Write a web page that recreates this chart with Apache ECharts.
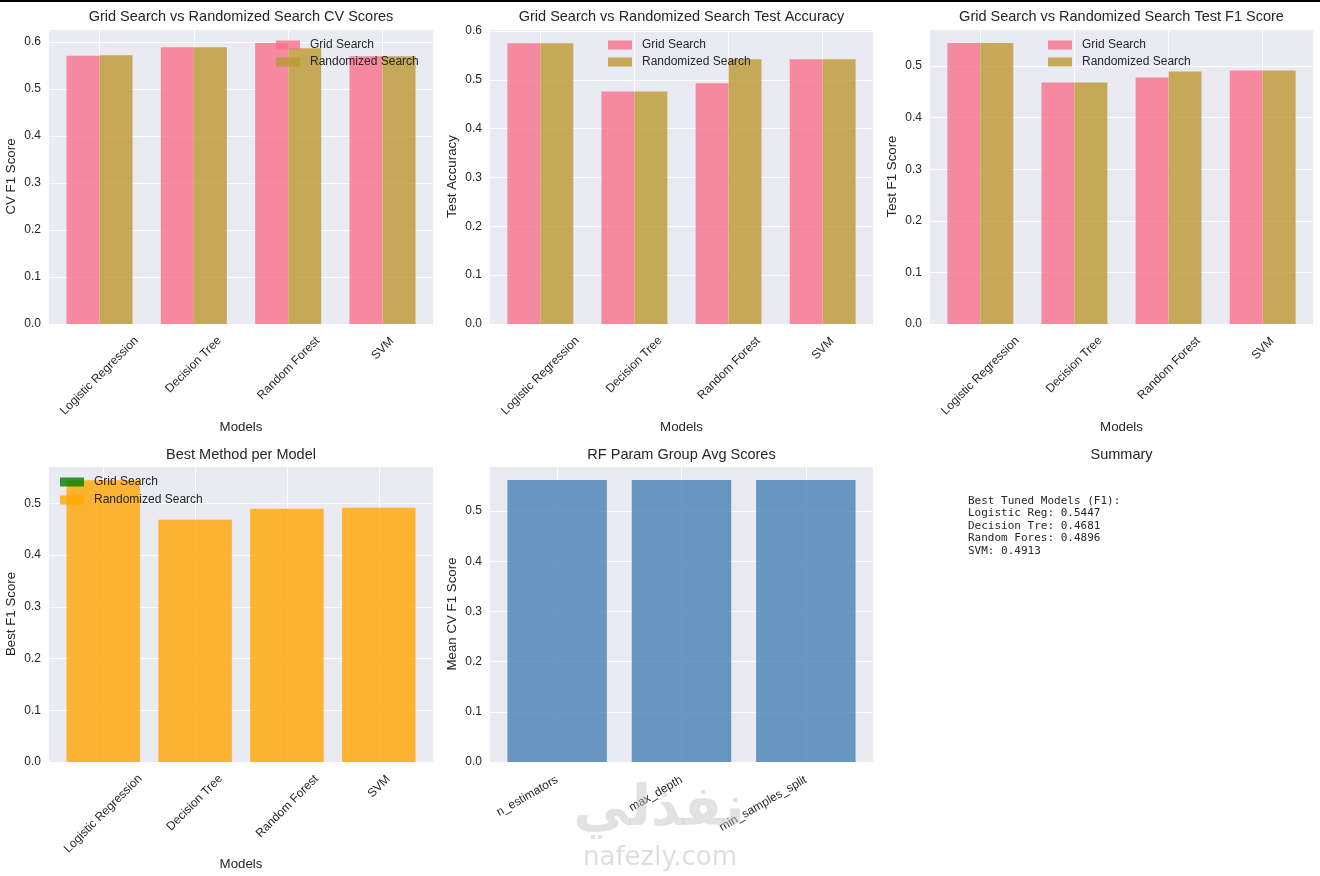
<!DOCTYPE html>
<html>
<head>
<meta charset="utf-8">
<script src="https://cdn.jsdelivr.net/npm/echarts@6/dist/echarts.min.js"></script>
<style>
html,body{margin:0;padding:0;background:#fff;}
#c{width:1320px;height:876px;}
#bar{position:absolute;left:0;top:0;width:1320px;height:2px;background:#000;z-index:10;}
</style>
</head>
<body>
<div id="bar"></div>
<div id="c"></div>
<script>
// ---- data ----
const models = ['Logistic Regression', 'Decision Tree', 'Random Forest', 'SVM'];
const cvGrid = [0.571, 0.589, 0.598, 0.570];
const cvRand = [0.572, 0.589, 0.587, 0.570];
const accGrid = [0.575, 0.476, 0.493, 0.542];
const accRand = [0.575, 0.476, 0.542, 0.542];
const f1Grid = [0.5447, 0.4681, 0.478, 0.4913];
const f1Rand = [0.5447, 0.4681, 0.4896, 0.4913];
const bestF1 = [0.5447, 0.4681, 0.4896, 0.4913];
const bestMethod = ['Randomized Search', 'Randomized Search', 'Randomized Search', 'Randomized Search'];
const paramGroups = ['n_estimators', 'max_depth', 'min_samples_split'];
const paramScores = [0.562, 0.562, 0.562];
const yTicks = [0.0, 0.1, 0.2, 0.3, 0.4, 0.5, 0.6];
const summaryLines = [
  'Best Tuned Models (F1):',
  'Logistic Reg: 0.5447',
  'Decision Tre: 0.4681',
  'Random Fores: 0.4896',
  'SVM: 0.4913'
];

// ---- style ----
const FONT = '"Liberation Sans", Arial, Helvetica, sans-serif';
const TXT = '#262626';
const BG = '#EAEAF2';
const PINK = 'rgba(247,113,137,0.8)';
const GOLD = 'rgba(187,152,50,0.8)';
const GREEN = 'rgba(0,128,0,0.8)';
const ORANGE = 'rgba(255,165,0,0.8)';
const STEEL = 'rgba(70,130,180,0.8)';

const cv = document.createElement('canvas').getContext('2d');
function textW(t, size) { cv.font = size + 'px ' + FONT; return cv.measureText(t).width; }
function rotCats(names) {
  return names.map(n => {
    const L = textW(n, 12);
    const pr = Math.round(L * 0.5);
    const pt = Math.max(0, Math.round(L * 0.25 - 6));
    return { value: n, textStyle: { align: 'center', verticalAlign: 'top', padding: [pt, pr, 0, 0] } };
  });
}

// panel frames (plot background) and matplotlib-like x extents
const panels = [
  { left: 49, top: 29, width: 384, height: 295, n: 4, half: 0.35 },
  { left: 490, top: 29, width: 383, height: 295, n: 4, half: 0.35 },
  { left: 930, top: 29, width: 383, height: 295, n: 4, half: 0.35 },
  { left: 49, top: 466, width: 384, height: 296, n: 4, half: 0.4 },
  { left: 490, top: 466, width: 383, height: 296, n: 3, half: 0.4 }
];
panels.forEach(p => {
  const dataLo = -p.half, dataHi = p.n - 1 + p.half;
  const range = (dataHi - dataLo) * 1.1;
  p.unit = p.width / range;
  const lo = dataLo - (dataHi - dataLo) * 0.05;
  p.cLeft = p.left + (-0.5 - lo) * p.unit;
  p.cWidth = p.n * p.unit;
});

const grids = [];
panels.forEach(p => {
  grids.push({ show: true, backgroundColor: BG, borderWidth: 0, outerBoundsMode: 'none', containLabel: false,
    left: p.left, top: p.top, width: p.width, height: p.height });
  grids.push({ show: false, borderWidth: 0, outerBoundsMode: 'none', containLabel: false,
    left: p.cLeft, top: p.top, width: p.cWidth, height: p.height });
});

const splitL = { show: true, alignWithLabel: true, lineStyle: { color: '#ffffff', width: 1 } };

function xCat(gi, data, rotated45, name, nameGap) {
  const ax = {
    type: 'category', gridIndex: gi, data: data,
    axisLine: { show: false }, axisTick: { show: false, alignWithLabel: true },
    splitLine: splitL,
    axisLabel: { interval: 0, hideOverlap: false, color: TXT, fontFamily: FONT, fontSize: 12 }
  };
  if (rotated45) {
    ax.axisLabel.rotate = 45; ax.axisLabel.align = 'center'; ax.axisLabel.verticalAlign = 'top';
    ax.axisLabel.margin = 15;
  } else {
    ax.axisLabel.rotate = 30; ax.axisLabel.margin = 17;
  }
  if (name) {
    ax.name = name; ax.nameLocation = 'middle'; ax.nameGap = nameGap;
    ax.nameTextStyle = { color: TXT, fontFamily: FONT, fontSize: 13.3 };
  }
  return ax;
}
function xHidden(gi, n) {
  return { type: 'category', gridIndex: gi, show: false, data: Array.from({ length: n }, (_, i) => i) };
}
function yVal(gi, max, name) {
  return {
    type: 'value', gridIndex: gi, min: 0, max: max, interval: 0.1,
    name: name, nameLocation: 'middle', nameGap: 31,
    nameTextStyle: { color: TXT, fontFamily: FONT, fontSize: 13.3 },
    axisLine: { show: false }, axisTick: { show: false },
    splitLine: { show: true, lineStyle: { color: '#ffffff', width: 1 } },
    axisLabel: { color: TXT, fontFamily: FONT, fontSize: 12, margin: 8, showMaxLabel: false,
      formatter: v => (yTicks.some(t => Math.abs(t - v) < 1e-9) ? v.toFixed(1) : '') }
  };
}
function yHidden(gi, max) {
  return { type: 'value', gridIndex: gi, show: false, min: 0, max: max, interval: 0.1, splitLine: { show: false } };
}
function legend(left, top, gap, names, colors) {
  return {
    orient: 'vertical', left: left, top: top, padding: 0, itemGap: gap,
    itemWidth: 24, itemHeight: 9, selectedMode: false,
    icon: 'rect',
    textStyle: { color: TXT, fontFamily: FONT, fontSize: 12, lineHeight: 14, padding: [0, 0, 0, 5] },
    data: names.map((n, i) => ({ name: n, icon: 'rect', itemStyle: { color: colors[i], opacity: 1 } }))
  };
}
function title(text, cx, top) {
  return { text: text, left: cx, top: top, textAlign: 'center', padding: 0,
    textStyle: { color: TXT, fontFamily: FONT, fontSize: 14.5, fontWeight: 'normal' } };
}
function bar(name, pi, data, color, frac, extra) {
  return Object.assign({
    type: 'bar', name: name, xAxisIndex: 2 * pi + 1, yAxisIndex: 2 * pi + 1, data: data,
    barWidth: frac * panels[pi].unit, barGap: '0%', itemStyle: { color: color }, emphasis: { disabled: true }
  }, extra || {});
}

const bestGrid = bestF1.map((v, i) => bestMethod[i] === 'Grid Search' ? v : null);
const bestRand = bestF1.map((v, i) => bestMethod[i] === 'Randomized Search' ? v : null);

const yMax = [0.628, 0.604, 0.572, 0.572, 0.590];
const yNames = ['CV F1 Score', 'Test Accuracy', 'Test F1 Score', 'Best F1 Score', 'Mean CV F1 Score'];

const xAxes = [], yAxes = [];
panels.forEach((p, i) => {
  xAxes.push(xHidden(2 * i, p.n));
  if (i < 4) xAxes.push(xCat(2 * i + 1, rotCats(models), true, 'Models', i < 3 ? 97 : 96));
  else xAxes.push(xCat(2 * i + 1, paramGroups, false, null, 0));
  yAxes.push(yVal(2 * i, yMax[i], yNames[i]));
  yAxes.push(yHidden(2 * i + 1, yMax[i]));
});

const option = {
  animation: false,
  backgroundColor: '#ffffff',
  grid: grids,
  title: [
    title('Grid Search vs Randomized Search CV Scores', 241, 9),
    title('Grid Search vs Randomized Search Test Accuracy', 681.5, 9),
    title('Grid Search vs Randomized Search Test F1 Score', 1121.5, 9),
    title('Best Method per Model', 241, 447.5),
    title('RF Param Group Avg Scores', 681.5, 447.5),
    title('Summary', 1121.5, 447.5),
    { text: summaryLines.join('\n'), left: 968, top: 495, padding: 0,
      textStyle: { color: TXT, fontFamily: '"DejaVu Sans Mono", monospace', fontSize: 11, lineHeight: 12.4, fontWeight: 'normal' } }
  ],
  legend: [
    legend(276, 38, 3, ['Grid Search', 'Randomized Search'], [PINK, GOLD]),
    legend(608, 38, 3, ['Grid Search', 'Randomized Search'], [PINK, GOLD]),
    legend(1048, 38, 3, ['Grid Search', 'Randomized Search'], [PINK, GOLD]),
    legend(60, 475, 4, ['Grid Search', 'Randomized Search'], [GREEN, ORANGE])
  ],
  xAxis: xAxes,
  yAxis: yAxes,
  series: [
    bar('Grid Search', 0, cvGrid, PINK, 0.35),
    bar('Randomized Search', 0, cvRand, GOLD, 0.35),
    bar('Grid Search', 1, accGrid, PINK, 0.35),
    bar('Randomized Search', 1, accRand, GOLD, 0.35),
    bar('Grid Search', 2, f1Grid, PINK, 0.35),
    bar('Randomized Search', 2, f1Rand, GOLD, 0.35),
    bar('Grid Search', 3, bestGrid, GREEN, 0.8, { stack: 'best' }),
    bar('Randomized Search', 3, bestRand, ORANGE, 0.8, { stack: 'best' }),
    bar('Mean CV F1 Score', 4, paramScores, STEEL, 0.8)
  ],
  graphic: [
    { type: 'text', x: 659, y: 810, z: 100, silent: true,
      style: { text: 'نفذلي', font: 'bold 56px "DejaVu Sans"', fill: 'rgba(190,190,190,0.45)', align: 'center', verticalAlign: 'middle' } },
    { type: 'text', x: 660, y: 858, z: 100, silent: true,
      style: { text: 'nafezly.com', font: '26px "DejaVu Sans"', fill: 'rgba(190,190,190,0.5)', align: 'center', verticalAlign: 'middle' } }
  ]
};

const chart = echarts.init(document.getElementById('c'), null, { renderer: 'canvas' });
chart.setOption(option);
</script>
</body>
</html>
